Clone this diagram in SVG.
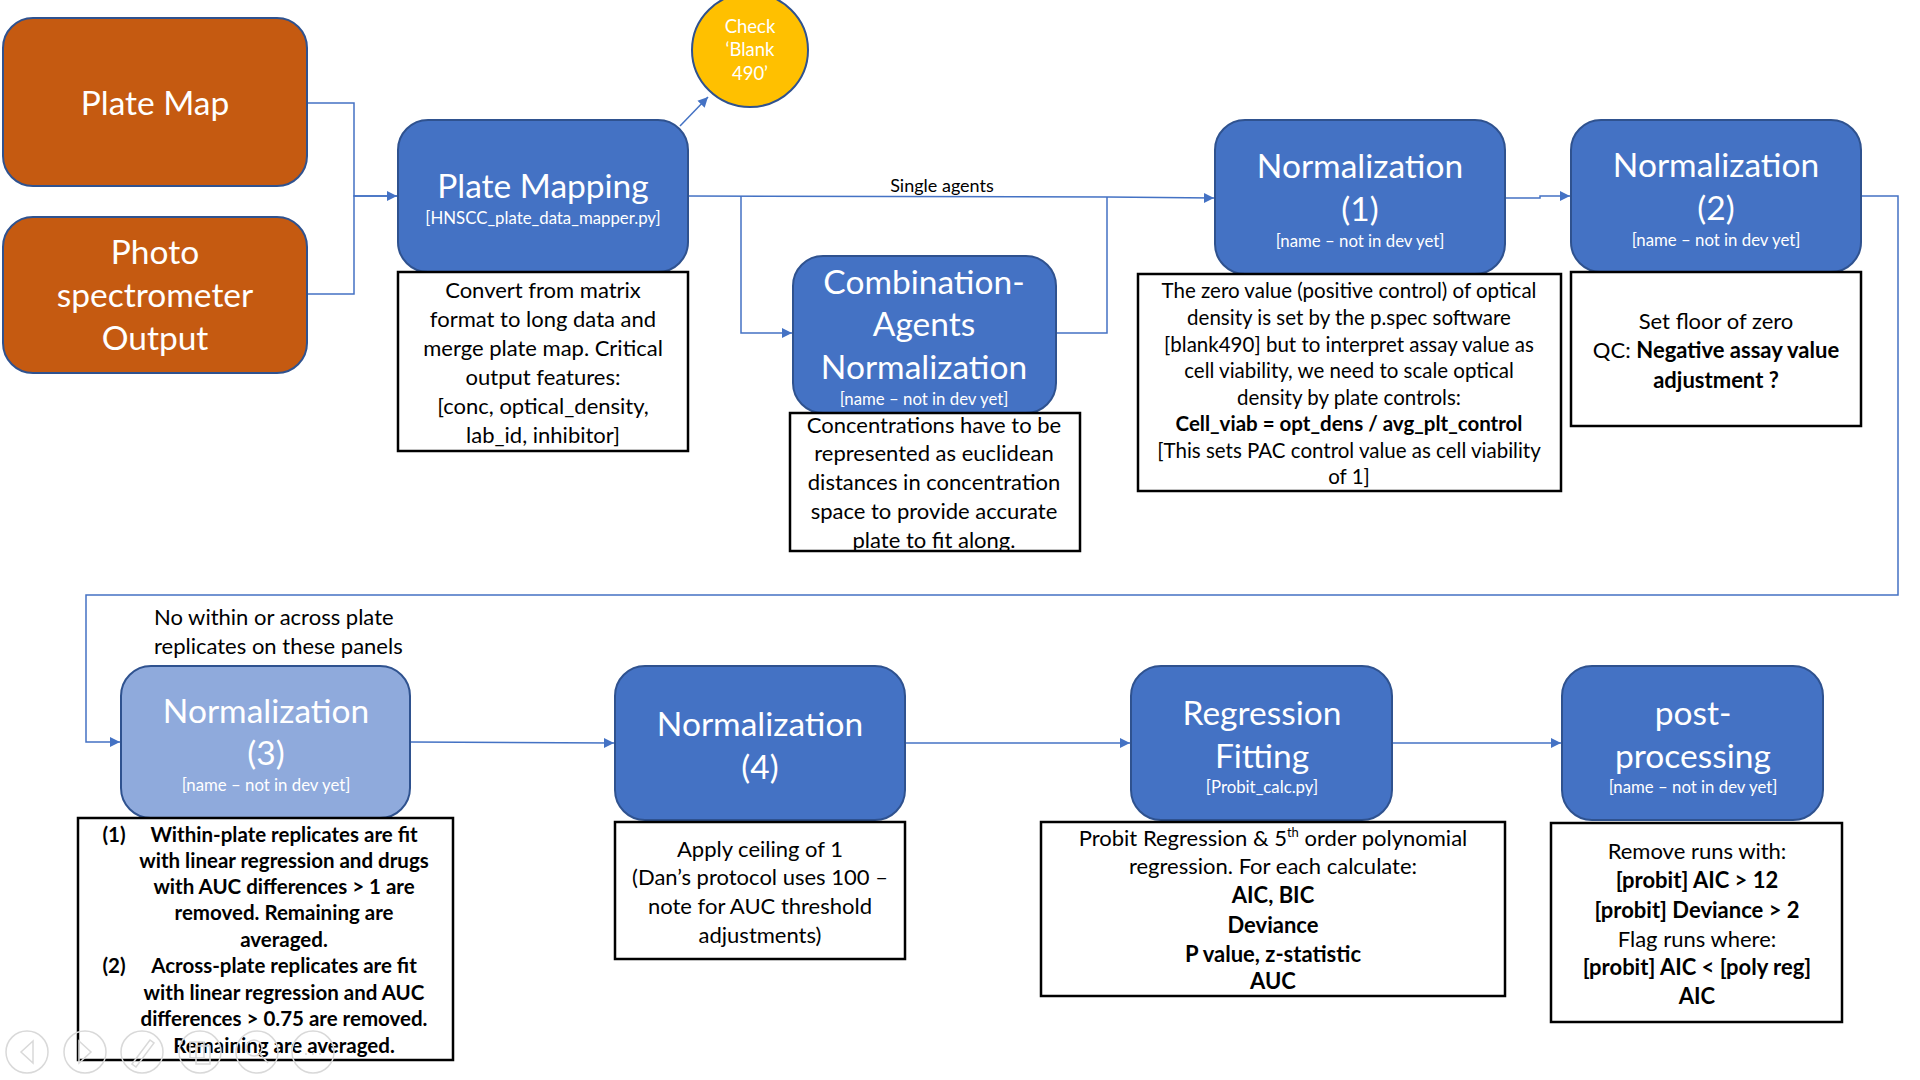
<svg xmlns="http://www.w3.org/2000/svg" width="1920" height="1080" viewBox="0 0 1920 1080">
<style>
.orange{fill:#C55A11;stroke:#2F528F;stroke-width:2}
.blue{fill:#4472C4;stroke:#2F528F;stroke-width:2}
.lblue{fill:#8FAADC;stroke:#2F528F;stroke-width:2}
.note{fill:#FFFFFF;stroke:#000000;stroke-width:2.5}
.title{font-family:Lato,"Liberation Sans",sans-serif;font-size:33.5px;fill:#FFFFFF;text-anchor:middle}
.sub{font-family:Lato,"Liberation Sans",sans-serif;font-size:16.8px;fill:#FFFFFF;text-anchor:middle}
.body{font-family:Lato,"Liberation Sans",sans-serif;font-size:22px;fill:#000000;text-anchor:middle}
.small{font-family:Lato,"Liberation Sans",sans-serif;font-size:20.5px;fill:#000000;text-anchor:middle}
.b{font-weight:bold}
.conn{fill:none;stroke:#4472C4;stroke-width:1.5}
.ui{fill:none;stroke:#D9D9D9;stroke-width:1.5}
</style>
<defs>
<marker id="arr" viewBox="0 0 10 10" refX="10" refY="5" markerWidth="10" markerHeight="11" markerUnits="userSpaceOnUse" orient="auto">
<path d="M0,0 L10,5 L0,10 z" fill="#4472C4"/>
</marker>
</defs>
<rect width="1920" height="1080" fill="#FFFFFF"/>

<g id="connectors">
<path class="conn" d="M307,103 H354 V196 H397" marker-end="url(#arr)"/>
<path class="conn" d="M307,294 H354 V196 H397"/>
<path class="conn" d="M680,126 L708,97" marker-end="url(#arr)"/>
<path class="conn" d="M688,196 L1107,197 L1214,198" marker-end="url(#arr)"/>
<path class="conn" d="M741,196 V333 H792" marker-end="url(#arr)"/>
<path class="conn" d="M1056,333 H1107 V197"/>
<path class="conn" d="M1505,198 H1540 V196 H1570" marker-end="url(#arr)"/>
<path class="conn" d="M1861,196 H1898 V595 H86 V742 H120" marker-end="url(#arr)"/>
<path class="conn" d="M410,742 L614,743" marker-end="url(#arr)"/>
<path class="conn" d="M905,743 H1130" marker-end="url(#arr)"/>
<path class="conn" d="M1392,743 H1561" marker-end="url(#arr)"/>
<text x="942" y="192" font-family="Lato,'Liberation Sans',sans-serif" font-size="18" fill="#000" text-anchor="middle">Single agents</text>
</g>

<g id="plate-map">
<rect class="orange" x="3" y="18" width="304" height="168" rx="30"/>
<text class="title" x="155" y="115">Plate Map</text>
</g>

<g id="photo-spectrometer-output">
<rect class="orange" x="3" y="217" width="304" height="156" rx="30"/>
<text class="title" x="155" y="264">Photo</text>
<text class="title" x="155" y="307">spectrometer</text>
<text class="title" x="155" y="350">Output</text>
</g>

<g id="check-blank-490">
<ellipse cx="750" cy="50" rx="58" ry="57" fill="#FFC000" stroke="#2F528F" stroke-width="2"/>
<text x="750" y="33" font-family="Lato,'Liberation Sans',sans-serif" font-size="18.5" fill="#FFFFFF" text-anchor="middle">Check</text>
<text x="750" y="56" font-family="Lato,'Liberation Sans',sans-serif" font-size="18.5" fill="#FFFFFF" text-anchor="middle">‘Blank</text>
<text x="750" y="80" font-family="Lato,'Liberation Sans',sans-serif" font-size="18.5" fill="#FFFFFF" text-anchor="middle">490’</text>
</g>

<g id="plate-mapping">
<rect class="blue" x="398" y="120" width="290" height="152" rx="30"/>
<text class="title" x="543" y="198">Plate Mapping</text>
<text class="sub" x="543" y="224">[HNSCC_plate_data_mapper.py]</text>
<rect class="note" x="398" y="272" width="290" height="179"/>
<text class="body" x="543" y="298">Convert from matrix</text>
<text class="body" x="543" y="327">format to long data and</text>
<text class="body" x="543" y="356">merge plate map. Critical</text>
<text class="body" x="543" y="385">output features:</text>
<text class="body" x="543" y="414">[conc, optical_density,</text>
<text class="body" x="543" y="443">lab_id, inhibitor]</text>
</g>

<g id="combination-agents-normalization">
<rect class="blue" x="793" y="256" width="263" height="157" rx="30"/>
<text class="title" x="924" y="294">Combination-</text>
<text class="title" x="924" y="336">Agents</text>
<text class="title" x="924" y="379">Normalization</text>
<text class="sub" x="924" y="405">[name – not in dev yet]</text>
<rect class="note" x="790" y="413" width="290" height="138"/>
<text class="body" x="934" y="433">Concentrations have to be</text>
<text class="body" x="934" y="461">represented as euclidean</text>
<text class="body" x="934" y="490">distances in concentration</text>
<text class="body" x="934" y="519">space to provide accurate</text>
<text class="body" x="934" y="548">plate to fit along.</text>
</g>

<g id="normalization-1">
<rect class="blue" x="1215" y="120" width="290" height="154" rx="30"/>
<text class="title" x="1360" y="178">Normalization</text>
<text class="title" x="1360" y="221">(1)</text>
<text class="sub" x="1360" y="247">[name – not in dev yet]</text>
<rect class="note" x="1138" y="274" width="423" height="217"/>
<text class="small" x="1349" y="298">The zero value (positive control) of optical</text>
<text class="small" x="1349" y="325">density is set by the p.spec software</text>
<text class="small" x="1349" y="352">[blank490] but to interpret assay value as</text>
<text class="small" x="1349" y="378">cell viability, we need to scale optical</text>
<text class="small" x="1349" y="405">density by plate controls:</text>
<text class="small b" x="1349" y="431">Cell_viab = opt_dens / avg_plt_control</text>
<text class="small" x="1349" y="458">[This sets PAC control value as cell viability</text>
<text class="small" x="1349" y="484">of 1]</text>
</g>

<g id="normalization-2">
<rect class="blue" x="1571" y="120" width="290" height="152" rx="30"/>
<text class="title" x="1716" y="177">Normalization</text>
<text class="title" x="1716" y="220">(2)</text>
<text class="sub" x="1716" y="246">[name – not in dev yet]</text>
<rect class="note" x="1571" y="272" width="290" height="154"/>
<text class="body" x="1716" y="329">Set floor of zero</text>
<text class="body" x="1716" y="358">QC: <tspan class="b">Negative assay value</tspan></text>
<text class="body b" x="1716" y="388">adjustment ?</text>
</g>

<g id="normalization-3">
<text x="154" y="625" font-family="Lato,'Liberation Sans',sans-serif" font-size="22" fill="#000">No within or across plate</text>
<text x="154" y="654" font-family="Lato,'Liberation Sans',sans-serif" font-size="22" fill="#000">replicates on these panels</text>
<rect class="lblue" x="121" y="666" width="289" height="152" rx="30"/>
<text class="title" x="266" y="723">Normalization</text>
<text class="title" x="266" y="765">(3)</text>
<text class="sub" x="266" y="791">[name – not in dev yet]</text>
<rect class="note" x="78" y="818" width="375" height="242"/>
<text class="small b" x="114" y="842" text-anchor="start">(1)</text>
<text class="small b" x="284" y="842">Within-plate replicates are fit</text>
<text class="small b" x="284" y="868">with linear regression and drugs</text>
<text class="small b" x="284" y="894">with AUC differences &gt; 1 are</text>
<text class="small b" x="284" y="920">removed. Remaining are</text>
<text class="small b" x="284" y="947">averaged.</text>
<text class="small b" x="114" y="973" text-anchor="start">(2)</text>
<text class="small b" x="284" y="973">Across-plate replicates are fit</text>
<text class="small b" x="284" y="1000">with linear regression and AUC</text>
<text class="small b" x="284" y="1026">differences &gt; 0.75 are removed.</text>
<text class="small b" x="284" y="1053">Remaining are averaged.</text>
</g>

<g id="normalization-4">
<rect class="blue" x="615" y="666" width="290" height="154" rx="30"/>
<text class="title" x="760" y="736">Normalization</text>
<text class="title" x="760" y="779">(4)</text>
<rect class="note" x="615" y="822" width="290" height="137"/>
<text class="body" x="760" y="857">Apply ceiling of 1</text>
<text class="body" x="760" y="885">(Dan’s protocol uses 100 –</text>
<text class="body" x="760" y="914">note for AUC threshold</text>
<text class="body" x="760" y="943">adjustments)</text>
</g>

<g id="regression-fitting">
<rect class="blue" x="1131" y="666" width="261" height="154" rx="30"/>
<text class="title" x="1262" y="725">Regression</text>
<text class="title" x="1262" y="768">Fitting</text>
<text class="sub" x="1262" y="793">[Probit_calc.py]</text>
<rect class="note" x="1041" y="822" width="464" height="174"/>
<text class="body" x="1273" y="846">Probit Regression &amp; 5<tspan font-size="13" dy="-9">th</tspan><tspan dy="9"> order polynomial</tspan></text>
<text class="body" x="1273" y="874">regression. For each calculate:</text>
<text class="body b" x="1273" y="903">AIC, BIC</text>
<text class="body b" x="1273" y="933">Deviance</text>
<text class="body b" x="1273" y="962">P value, z-statistic</text>
<text class="body b" x="1273" y="989">AUC</text>
</g>

<g id="post-processing">
<rect class="blue" x="1562" y="666" width="261" height="154" rx="30"/>
<text class="title" x="1693" y="725">post-</text>
<text class="title" x="1693" y="768">processing</text>
<text class="sub" x="1693" y="793">[name – not in dev yet]</text>
<rect class="note" x="1551" y="823" width="291" height="199"/>
<text class="body" x="1697" y="859">Remove runs with:</text>
<text class="body b" x="1697" y="888">[probit] AIC &gt; 12</text>
<text class="body b" x="1697" y="918">[probit] Deviance &gt; 2</text>
<text class="body" x="1697" y="947">Flag runs where:</text>
<text class="body b" x="1697" y="975">[probit] AIC &lt; [poly reg]</text>
<text class="body b" x="1697" y="1004">AIC</text>
</g>

<g id="slideshow-controls">
<circle class="ui" cx="27" cy="1052" r="21"/>
<path class="ui" d="M33,1041 L21,1052 L33,1063 Z"/>
<circle class="ui" cx="85" cy="1052" r="21"/>
<path class="ui" d="M79,1041 L91,1052 L79,1063 Z"/>
<circle class="ui" cx="142" cy="1052" r="21"/>
<path class="ui" d="M132,1064 L150,1040 L154,1043 L136,1067 Z"/>
<circle class="ui" cx="200" cy="1052" r="21"/>
<path class="ui" d="M190,1042 H204 V1058 H190 Z M196,1046 H210 V1064 H196 Z"/>
<circle class="ui" cx="257" cy="1052" r="21"/>
<circle class="ui" cx="254" cy="1048" r="8"/>
<path class="ui" d="M260,1054 L268,1063"/>
<circle class="ui" cx="313" cy="1052" r="21"/>
<path class="ui" d="M305,1054 h2 M312,1054 h2 M319,1054 h2"/>
</g>
</svg>
